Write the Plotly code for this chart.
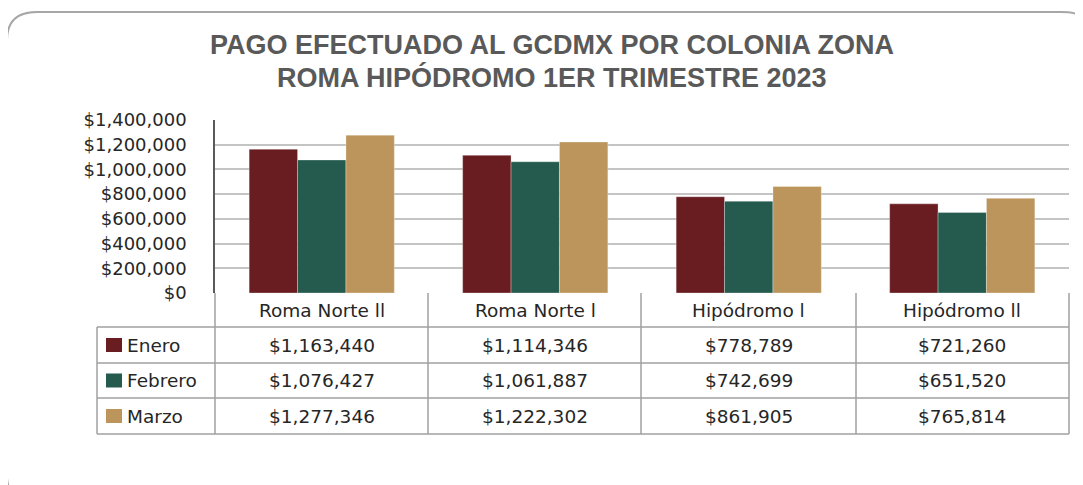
import plotly.graph_objects as go

categories = ["Roma Norte II", "Roma Norte I", "Hipódromo I", "Hipódromo II"]
cat_labels = ["Roma Norte ll", "Roma Norte l", "Hipódromo l", "Hipódromo ll"]
series_names = ["Enero", "Febrero", "Marzo"]
enero = [1163440, 1114346, 778789, 721260]
febrero = [1076427, 1061887, 742699, 651520]
marzo = [1277346, 1222302, 861905, 765814]
y_ticks = [0, 200000, 400000, 600000, 800000, 1000000, 1200000, 1400000]
title_lines = ["PAGO EFECTUADO AL GCDMX POR COLONIA ZONA",
               "ROMA HIPÓDROMO 1ER TRIMESTRE 2023"]

colors = ["#691D21", "#245B4E", "#BC955C"]
values = [enero, febrero, marzo]

OFF = 8  # page body margin
W, H = 1083 - OFF, 485 - OFF
L, R, T, B = 215 - OFF, 14, 120 - OFF, H - (293 - OFF)
plot_w = W - L - R
plot_h = H - T - B


def px(xpage):
    return (xpage - OFF - L) / plot_w


def py(ypage):
    return (H - B - (ypage - OFF)) / plot_h


fig = go.Figure()
for name, vals, col in zip(series_names, values, colors):
    fig.add_trace(go.Bar(x=categories, y=vals, name=name,
                         marker=dict(color=col, line=dict(color="rgba(255,255,255,0.3)", width=1))))

shapes = []
annotations = []
# Rounded outer border
shapes.append(dict(type="path", xref="paper", yref="paper",
                   path=f"M {px(7)} {py(40)} "
                        f"Q {px(7)} {py(12)} {px(37)} {py(12)} "
                        f"L {px(1060)} {py(12)} "
                        f"Q {px(1082)} {py(12)} {px(1084)} {py(20)} "
                        f"M {px(7)} {py(40)} L {px(7)} {py(478)} "
                        f"Q {px(8)} {py(490)} {px(14)} {py(495)}",
                   line=dict(color="#A6A6A6", width=2)))

rows_y = [293, 327, 363, 398, 434]
col_x = [215, 428, 641, 856, 1069]
grid = "#A0A0A0"
for yy in rows_y[1:]:
    shapes.append(dict(type="line", xref="paper", yref="paper", x0=px(97), x1=px(1069),
                       y0=py(yy), y1=py(yy), line=dict(color=grid, width=1.5)))
for xx in col_x:
    shapes.append(dict(type="line", xref="paper", yref="paper", x0=px(xx), x1=px(xx),
                       y0=py(293), y1=py(434), line=dict(color=grid, width=1.5)))
shapes.append(dict(type="line", xref="paper", yref="paper", x0=px(97), x1=px(97),
                   y0=py(327), y1=py(434), line=dict(color=grid, width=1.5)))

font_t = dict(family="DejaVu Sans", size=18.5, color="#262626")
for c, lab in zip(categories, cat_labels):
    annotations.append(dict(x=c, xref="x", y=py(310), yref="paper", text=lab,
                            showarrow=False, font=font_t, xanchor="center", yanchor="middle"))
for r, (name, vals, col) in enumerate(zip(series_names, values, colors)):
    yc = (rows_y[r + 1] + rows_y[r + 2]) / 2
    shapes.append(dict(type="rect", xref="paper", yref="paper",
                       x0=px(106), x1=px(122), y0=py(yc - 7), y1=py(yc + 7),
                       fillcolor=col, line=dict(width=0)))
    annotations.append(dict(x=px(125), xref="paper", y=py(yc), yref="paper", text=name,
                            showarrow=False, font=font_t, xanchor="left", yanchor="middle"))
    for c, v in zip(categories, vals):
        annotations.append(dict(x=c, xref="x", y=py(yc), yref="paper", text=f"${v:,.0f}",
                                showarrow=False, font=font_t, xanchor="center", yanchor="middle"))

title_font = dict(family="Liberation Sans", size=27, color="#595959", weight="bold")
for line, yy in zip(title_lines, [45, 77]):
    annotations.append(dict(x=px(552), xref="paper", y=py(yy), yref="paper", text=line,
                            showarrow=False, font=title_font, xanchor="center", yanchor="middle"))

fig.update_layout(
    width=W, height=H,
    margin=dict(l=L, r=R, t=T, b=B),
    paper_bgcolor="white", plot_bgcolor="white",
    barmode="group", bargap=0.32, bargroupgap=0,
    showlegend=False,
    xaxis=dict(showticklabels=False, showgrid=False, ticks="", showline=False, zeroline=False),
    yaxis=dict(range=[0, 1400000], tickvals=y_ticks,
               ticktext=[f"${v:,}" for v in y_ticks],
               showgrid=True, gridcolor="#C4C4C4", gridwidth=1.5,
               showline=True, linecolor="#595959", linewidth=1.5,
               ticks="", ticklabelstandoff=23, zeroline=False,
               tickfont=dict(family="DejaVu Sans", size=18, color="#262626")),
    shapes=shapes, annotations=annotations,
)

fig.write_html("out.html")
